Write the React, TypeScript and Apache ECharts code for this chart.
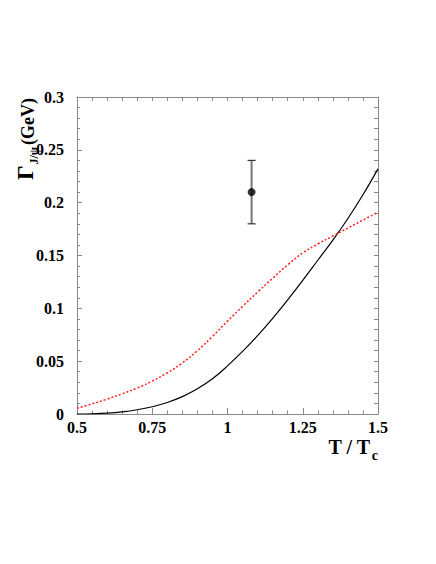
import React, { useEffect, useRef } from "react";
import * as echarts from "echarts";

const temps = [0.5, 0.55, 0.6, 0.65, 0.7, 0.75, 0.8, 0.85, 0.9, 0.95, 1.0, 1.05, 1.1, 1.15, 1.2, 1.25, 1.3, 1.35, 1.4, 1.45, 1.5];
const blackWidth = [0.0, 0.0002, 0.0008, 0.002, 0.004, 0.0069, 0.0109, 0.0164, 0.0238, 0.0333, 0.0455, 0.0592, 0.0742, 0.0905, 0.108, 0.1265, 0.1455, 0.1645, 0.185, 0.2075, 0.232];
const redWidth = [0.0054, 0.0096, 0.0141, 0.0191, 0.0246, 0.0311, 0.0389, 0.0484, 0.0599, 0.0734, 0.0879, 0.1019, 0.1154, 0.1284, 0.1412, 0.1525, 0.1609, 0.1685, 0.176, 0.1835, 0.191];
const measT = [1.08];
const measW = [0.21];
const measLo = [0.18];
const measHi = [0.24];

const FONT = "'Liberation Serif', 'Times New Roman', serif";
const AXIS_COLOR = "#8a8a8a";

export default function App() {
  const ref = useRef<HTMLDivElement>(null);
  useEffect(() => {
    if (!ref.current) return;
    const chart = echarts.init(ref.current, undefined, { renderer: "svg" });
    const labelStyle = { fontFamily: FONT, fontWeight: "bold" as const, fontSize: 16, color: "#000" };
    chart.setOption({
      animation: false,
      backgroundColor: "#fff",
      grid: { left: 77, right: 58, top: 97, bottom: 150, containLabel: false },
      xAxis: [
        {
          type: "value", min: 0.5, max: 1.5, interval: 0.25, position: "bottom",
          axisLine: { show: true, onZero: false, lineStyle: { color: AXIS_COLOR, width: 1 } },
          axisTick: { show: true, inside: true, length: 6, lineStyle: { color: AXIS_COLOR } },
          minorTick: { show: true, splitNumber: 5, length: 3.5, lineStyle: { color: AXIS_COLOR } },
          splitLine: { show: false },
          axisLabel: { ...labelStyle, margin: 5, formatter: (v: number) => String(v) },
        },
        {
          type: "value", min: 0.5, max: 1.5, interval: 0.05, position: "top",
          axisLine: { show: true, onZero: false, lineStyle: { color: AXIS_COLOR, width: 1 } },
          axisTick: { show: true, inside: true, length: 4, lineStyle: { color: AXIS_COLOR } },
          splitLine: { show: false },
          axisLabel: { show: false },
        },
      ],
      yAxis: [
        {
          type: "value", min: 0, max: 0.3, interval: 0.05, position: "left",
          axisLine: { show: true, onZero: false, lineStyle: { color: AXIS_COLOR, width: 1 } },
          axisTick: { show: true, inside: true, length: 5, lineStyle: { color: AXIS_COLOR } },
          minorTick: { show: true, splitNumber: 5, length: 3, lineStyle: { color: AXIS_COLOR } },
          splitLine: { show: false },
          axisLabel: { ...labelStyle, margin: 13, formatter: (v: number) => String(v) },
        },
        {
          type: "value", min: 0, max: 0.3, interval: 0.01, position: "right",
          axisLine: { show: true, onZero: false, lineStyle: { color: AXIS_COLOR, width: 1 } },
          axisTick: { show: true, inside: true, length: 4, lineStyle: { color: AXIS_COLOR } },
          splitLine: { show: false },
          axisLabel: { show: false },
        },
      ],
      graphic: [
        {
          type: "text",
          x: 27, y: 139,
          rotation: Math.PI / 2,
          style: {
            text: "{g|Γ}{s|J/ψ}{n|(GeV)}",
            align: "center",
            verticalAlign: "middle",
            rich: {
              g: { fontFamily: FONT, fontWeight: "bold", fontSize: 23, fill: "#000", verticalAlign: "bottom", padding: [0, 1, 3, 0] },
              s: { fontFamily: FONT, fontWeight: "bold", fontSize: 12, fill: "#000", verticalAlign: "bottom", padding: [0, 2, 0, 0] },
              n: { fontFamily: FONT, fontWeight: "bold", fontSize: 18, fill: "#000", verticalAlign: "bottom", padding: [0, 0, 3, 0] },
            },
          },
        },
        {
          type: "text",
          right: 58, top: 437,
          style: {
            text: "{n|T / T}{s|c}",
            rich: {
              n: { fontFamily: FONT, fontWeight: "bold", fontSize: 20, fill: "#000", verticalAlign: "bottom", padding: [0, 0, 5, 0] },
              s: { fontFamily: FONT, fontWeight: "bold", fontSize: 14, fill: "#000", verticalAlign: "bottom", padding: [0, 0, 0, 1] },
            },
          },
        },
      ],
      series: [
        {
          type: "line", xAxisIndex: 0, yAxisIndex: 0,
          data: temps.map((t, i) => [t, blackWidth[i]]),
          smooth: 0.4, showSymbol: false, symbol: "none",
          lineStyle: { color: "#000", width: 1.2 },
          z: 3,
        },
        {
          type: "line", xAxisIndex: 0, yAxisIndex: 0,
          data: temps.map((t, i) => [t, redWidth[i]]),
          smooth: 0.4, showSymbol: false, symbol: "none",
          lineStyle: { color: "#ff2020", width: 1.5, type: [2, 2] },
          z: 3,
        },
        {
          type: "custom", xAxisIndex: 0, yAxisIndex: 0,
          data: measT.map((t, i) => [t, measLo[i], measHi[i]]),
          renderItem: (params: any, api: any) => {
            const lo = api.coord([api.value(0), api.value(1)]);
            const hi = api.coord([api.value(0), api.value(2)]);
            const hw = 4;
            return {
              type: "group",
              children: [
                { type: "line", shape: { x1: lo[0], y1: lo[1], x2: hi[0], y2: hi[1] }, style: { stroke: "#777", lineWidth: 2 } },
                { type: "line", shape: { x1: lo[0] - hw, y1: lo[1], x2: lo[0] + hw, y2: lo[1] }, style: { stroke: "#333", lineWidth: 1.2 } },
                { type: "line", shape: { x1: hi[0] - hw, y1: hi[1], x2: hi[0] + hw, y2: hi[1] }, style: { stroke: "#333", lineWidth: 1.2 } },
              ],
            };
          },
          z: 4,
        },
        {
          type: "scatter", xAxisIndex: 0, yAxisIndex: 0,
          data: measT.map((t, i) => [t, measW[i]]),
          symbol: "circle", symbolSize: 8,
          itemStyle: { color: "#000" },
          z: 5,
        },
      ],
    });
    return () => chart.dispose();
  }, []);
  return <div ref={ref} style={{ position: "fixed", left: 0, top: 0, width: 436, height: 564, background: "#fff" }} />;
}
